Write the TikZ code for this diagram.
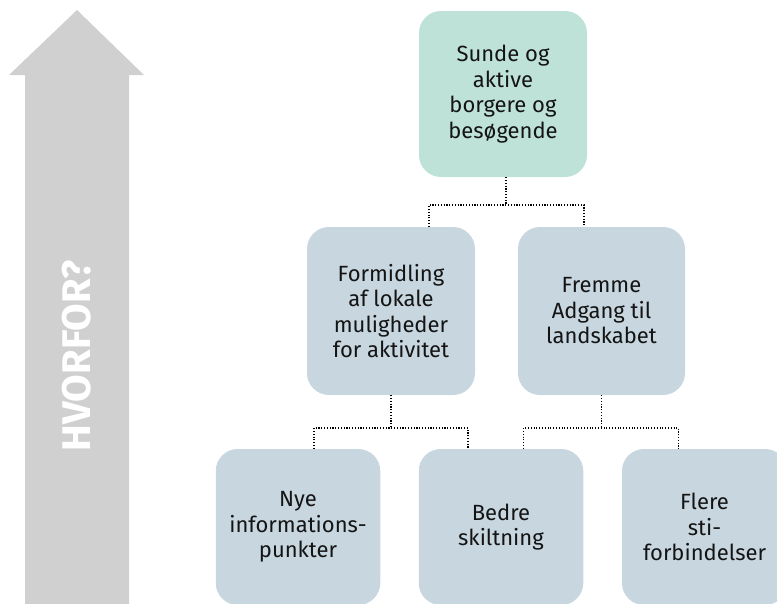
\documentclass[tikz,border=0pt]{standalone}
\usepackage{fontspec}
\setmainfont{Fira Sans}
\definecolor{topgreen}{RGB}{190,226,215}
\definecolor{boxblue}{RGB}{199,214,223}
\definecolor{arrowgray}{RGB}{208,208,208}
\definecolor{boxtext}{RGB}{20,20,20}
\begin{document}
\begin{tikzpicture}[x=1pt,y=-1pt,
  box/.style={rounded corners=22pt, inner sep=0pt, align=center,
    font=\fontsize{22}{25.5}\selectfont, text=boxtext, fill=boxblue},
  conn/.style={black, line width=1.1pt, dash pattern=on 1.1pt off 1.7pt}]
\clip (0,0) rectangle (777,603);
% arrow
\fill[arrowgray] (77,10) -- (144,75) -- (129,75) -- (129,610) -- (25,610) -- (25,75) -- (9,75) -- cycle;
\node[rotate=90, text=white, inner sep=0pt, font=\bfseries\fontsize{40}{44}\selectfont] (why) at (77,356) {HVORFOR?};
% boxes
\node[box, fill=topgreen, minimum width=168pt, minimum height=166pt] (top) at (503,94)
  {Sunde og\\aktive\\borgere og\\besøgende};
\node[box, minimum width=168pt, minimum height=168pt] (m1) at (391,311)
  {Formidling\\af lokale\\muligheder\\for aktivitet};
\node[box, minimum width=167pt, minimum height=168pt] (m2) at (601.5,311)
  {Fremme\\Adgang til\\landskabet};
\node[box, minimum width=164.5pt, minimum height=156pt] (b1) at (298,527)
  {Nye\\informations-\\punkter};
\node[box, minimum width=164.5pt, minimum height=156pt] (b2) at (501,527)
  {Bedre\\skiltning};
\node[box, minimum width=165pt, minimum height=156pt] (b3) at (704.5,527)
  {Flere\\sti-\\forbindelser};
% connectors
\coordinate (j1) at (506,205);
\coordinate (c1) at (429,205);
\coordinate (c2) at (584,205);
\draw[conn] (top.south -| j1) -- (j1);
\draw[conn] (m1.north -| c1) -- (c1) -- (c2) -- (m2.north -| c2);
\coordinate (j2) at (391,428);
\coordinate (c3) at (314,428);
\coordinate (c4) at (468,428);
\draw[conn] (m1.south -| j2) -- (j2);
\draw[conn] (b1.north -| c3) -- (c3) -- (c4) -- (b2.north -| c4);
\coordinate (j3) at (601.5,428);
\coordinate (c5) at (523.5,428);
\coordinate (c6) at (678.5,428);
\draw[conn] (m2.south -| j3) -- (j3);
\draw[conn] (b2.north -| c5) -- (c5) -- (c6) -- (b3.north -| c6);
\end{tikzpicture}
\end{document}
